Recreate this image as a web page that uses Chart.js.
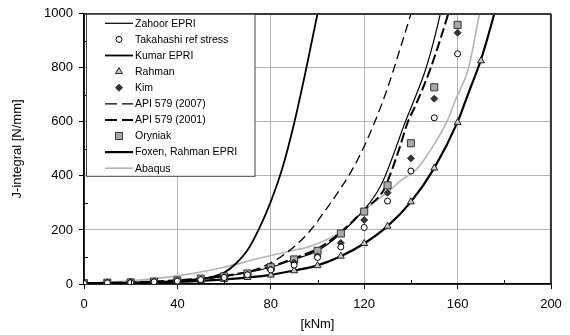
<!DOCTYPE html>
<html>
<head>
<meta charset="utf-8">
<script src="https://cdn.jsdelivr.net/npm/chart.js@4/dist/chart.umd.min.js"></script>
<style>
  html, body { margin: 0; padding: 0; background: #ffffff; }
  #wrap { width: 570px; height: 335px; }
</style>
</head>
<body>
<div id="wrap"><canvas id="c" width="570" height="335"></canvas></div>
<script>
// ---- Data ----
const markerX   = [0,10,20,30,40,50,60,70,80,90,100,110,120,130,140,150,160];
const rahmanX   = [0,10,20,30,40,50,60,70,80,90,100,110,120,130,140,150,160,170];
const takahashiJ = [2,4,5,8,11,16,24,34,52,70,98,137,209,307,418,615,852];
const rahmanJ    = [1,2,4,5,8,12,17,24,33,49,68,103,150,214,304,429,598,826];
const kimJ       = [2,4,6,8,12,17,25,35,54,79,103,152,237,338,465,686,930];
const oryniakJ   = [3,5,6,9,13,20,28,39,62,91,123,187,268,365,521,728,959];

const zahoorX = [0,20,40,60,80,90,100,110,120,126,129,133,137.6,140.4,146.6,152.6,154];
const zahoorJ = [3,6,13,28,62,91,123,187,275,347,400,490,600,660,802,1000,1060];

const kumarX = [0,20,40,50,55,60,65,70,75,80,85,90,95,100,101];
const kumarJ = [1,3,9,17,27,42,75,125,205,305,430,595,790,1000,1045];

const api2007X = [0,20,40,50,60,70,80,90,97,104,110,115,120,125,130,135,140,141];
const api2007J = [2,5,12,18,28,45,78,138,199,280,355,425,510,610,725,860,1000,1030];

const api2001X = [0,20,40,60,80,90,100,110,120,128.3,130.9,135,138.7,142.2,148.5,156,157];
const api2001J = [3,6,14,30,65,95,130,192,275,347,400,500,600,665,800,1000,1030];

const foxenX = [0,20,40,60,80,90,100,110,120,130,140,150,160,165,170,175.7,177];
const foxenJ = [1,4,8,17,34,50,69,103,150,214,304,429,600,715,830,1000,1045];

const abaqusX = [0,20,40,60,75,90,97,110,120,131,136,142.5,148.3,155.4,159,164.7,169.4,171];
const abaqusJ = [3,12,30,62,95,125,140,193,273,347,385,425,494,601,679,800,1000,1060];

const xTicks = [0,40,80,120,160,200];
const yTicks = [0,200,400,600,800,1000];
const xMinor = [20,60,100,140,180];
const yMinor = [100,300,500,700,900];

const FONT = "'Liberation Sans', Arial, sans-serif";

function pts(xs, ys) { return xs.map((x, i) => ({ x: x, y: ys[i] })); }

function lineDs(label, xs, ys, color, width, dash) {
  return {
    label, data: pts(xs, ys), showLine: true, borderColor: color, backgroundColor: color,
    borderWidth: width, borderDash: dash || [], pointRadius: 0, pointHoverRadius: 0,
    cubicInterpolationMode: 'monotone', order: 2, kind: 'line'
  };
}
function markDs(label, xs, ys, style, radius, fill, stroke) {
  return {
    label, data: pts(xs, ys), showLine: false, pointStyle: style, pointRadius: radius,
    pointBackgroundColor: fill, pointBorderColor: stroke, pointBorderWidth: 1,
    backgroundColor: fill, borderColor: stroke, order: 1, kind: 'marker'
  };
}

const datasets = [
  lineDs('Zahoor EPRI', zahoorX, zahoorJ, '#000000', 1.2),
  markDs('Takahashi ref stress', markerX, takahashiJ, 'circle', 3, '#ffffff', '#000000'),
  lineDs('Kumar EPRI', kumarX, kumarJ, '#000000', 1.8),
  markDs('Rahman', rahmanX, rahmanJ, 'triangle', 4, '#c8c8c8', '#222222'),
  markDs('Kim', markerX, kimJ, 'rectRot', 3.5, '#333333', '#333333'),
  lineDs('API 579 (2007)', api2007X, api2007J, '#000000', 1.3, [9,5]),
  lineDs('API 579 (2001)', api2001X, api2001J, '#000000', 2, [10,4]),
  markDs('Oryniak', markerX, oryniakJ, 'rect', 5, '#a8a8a8', '#333333'),
  lineDs('Foxen, Rahman EPRI', foxenX, foxenJ, '#000000', 2.2),
  lineDs('Abaqus', abaqusX, abaqusJ, '#b4b4b4', 1.6)
];

function drawMarker(ctx, style, x, y, r, fill, stroke) {
  ctx.save();
  ctx.fillStyle = fill; ctx.strokeStyle = stroke; ctx.lineWidth = 1; ctx.setLineDash([]);
  ctx.beginPath();
  if (style === 'circle') {
    ctx.arc(x, y, r, 0, Math.PI * 2);
  } else if (style === 'triangle') {
    ctx.moveTo(x, y - r);
    ctx.lineTo(x + r * 0.866, y + r * 0.5);
    ctx.lineTo(x - r * 0.866, y + r * 0.5);
    ctx.closePath();
  } else if (style === 'rectRot') {
    ctx.moveTo(x, y - r); ctx.lineTo(x + r, y); ctx.lineTo(x, y + r); ctx.lineTo(x - r, y); ctx.closePath();
  } else {
    const s = r * Math.SQRT1_2;
    ctx.rect(x - s, y - s, 2 * s, 2 * s);
  }
  ctx.fill(); ctx.stroke();
  ctx.restore();
}

const decorPlugin = {
  id: 'decor',
  afterDraw(chart) {
    const ctx = chart.ctx;
    const xs = chart.scales.x, ys = chart.scales.y;
    const area = chart.chartArea;
    ctx.save();
    // minor ticks (inside)
    ctx.strokeStyle = '#000'; ctx.lineWidth = 1;
    xMinor.forEach(v => {
      const px = Math.round(xs.getPixelForValue(v)) + 0.5;
      ctx.beginPath(); ctx.moveTo(px, area.bottom); ctx.lineTo(px, area.bottom - 4); ctx.stroke();
    });
    yMinor.forEach(v => {
      const py = Math.round(ys.getPixelForValue(v)) + 0.5;
      ctx.beginPath(); ctx.moveTo(area.left, py); ctx.lineTo(area.left + 4, py); ctx.stroke();
    });
    // top & right border
    ctx.strokeStyle = '#3a3a3a'; ctx.lineWidth = 1.2;
    ctx.beginPath();
    ctx.moveTo(area.left, area.top + 0.5); ctx.lineTo(area.right - 0.5, area.top + 0.5);
    ctx.lineTo(area.right - 0.5, area.bottom);
    ctx.stroke();

    // legend box
    const lx = area.left + 2.5, ly = area.top + 0.5, lw = 168.5, lh = 162;
    ctx.fillStyle = '#ffffff';
    ctx.fillRect(lx, ly, lw, lh);
    ctx.strokeStyle = '#444444'; ctx.lineWidth = 1;
    ctx.strokeRect(lx, ly, lw, lh);
    ctx.font = "10.5px " + FONT;
    ctx.textBaseline = 'middle';
    ctx.textAlign = 'left';
    chart.data.datasets.forEach((ds, i) => {
      const ry = area.top + 9.5 + i * 16.1;
      if (ds.kind === 'line') {
        ctx.save();
        ctx.strokeStyle = ds.borderColor; ctx.lineWidth = ds.borderWidth;
        ctx.setLineDash(ds.borderDash && ds.borderDash.length ? [12, 5] : []);
        ctx.beginPath(); ctx.moveTo(lx + 18.5, ry); ctx.lineTo(lx + 46.5, ry); ctx.stroke();
        ctx.restore();
      } else {
        drawMarker(ctx, ds.pointStyle, lx + 32.5, ry, ds.pointRadius, ds.pointBackgroundColor, ds.pointBorderColor);
      }
      ctx.fillStyle = '#000000';
      ctx.fillText(ds.label, lx + 48.5, ry + 0.5);
    });
    ctx.restore();
  }
};

new Chart(document.getElementById('c'), {
  type: 'scatter',
  data: { datasets },
  options: {
    responsive: false,
    animation: false,
    events: [],
    layout: { padding: { top: 13, right: 19, left: 0, bottom: 0 } },
    plugins: { legend: { display: false }, tooltip: { enabled: false } },
    scales: {
      x: {
        type: 'linear', min: 0, max: 200,
        afterBuildTicks: s => { s.ticks = xTicks.map(v => ({ value: v })); },
        afterFit: s => { s.height = 51; },
        border: { display: true, color: '#000000', width: 1.8 },
        grid: {
          color: c => (c.tick && c.tick.value === 200) ? '#3a3a3a' : '#b4b4b4',
          lineWidth: 1, tickLength: 5, tickColor: '#000000', drawTicks: true
        },
        ticks: { color: '#000000', font: { family: FONT, size: 13 }, padding: 8, maxRotation: 0,
                 callback: v => String(v) },
        title: { display: true, text: '[kNm]', color: '#000000', font: { family: FONT, size: 13 }, padding: { top: 0, bottom: 3 } }
      },
      y: {
        type: 'linear', min: 0, max: 1000,
        afterBuildTicks: s => { s.ticks = yTicks.map(v => ({ value: v })); },
        afterFit: s => { s.width = 84; },
        border: { display: true, color: '#000000', width: 1.8 },
        grid: {
          color: c => (c.tick && c.tick.value === 1000) ? '#3a3a3a' : '#b4b4b4',
          lineWidth: 1, tickLength: 5, tickColor: '#000000', drawTicks: true
        },
        ticks: { color: '#000000', font: { family: FONT, size: 13 }, padding: 6,
                 callback: v => String(v) },
        title: { display: true, text: 'J-integral [N/mm]', color: '#000000', font: { family: FONT, size: 13 }, padding: { top: 10, bottom: 0 } }
      }
    }
  },
  plugins: [decorPlugin]
});
</script>
</body>
</html>
